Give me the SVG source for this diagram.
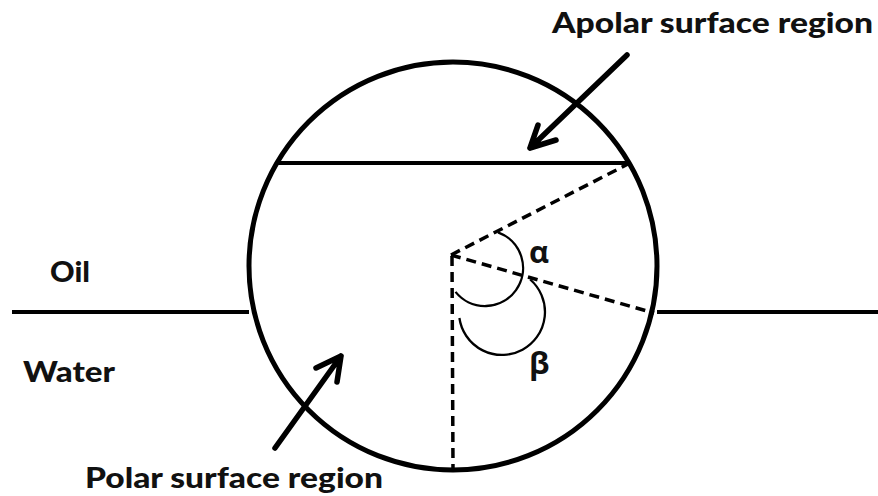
<svg xmlns="http://www.w3.org/2000/svg" width="878" height="496" viewBox="0 0 878 496">
<style>
.lbl{font-family:Lato,"Open Sans","Liberation Sans",sans-serif;font-weight:900;font-size:28px;fill:#111}
.greek{font-family:"Open Sans","Liberation Sans",sans-serif;font-weight:700;font-size:31px;fill:#111}
.thick{fill:none;stroke:#000;stroke-width:5;stroke-linecap:round}
.line{fill:none;stroke:#000;stroke-width:4}
.dash{fill:none;stroke:#000;stroke-width:3.5;stroke-dasharray:10 6}
.arc{fill:none;stroke:#000;stroke-width:2.3}
.arrow{fill:none;stroke:#000;stroke-width:5.5;stroke-linecap:round;stroke-linejoin:round}
</style>
<rect width="878" height="496" fill="#fff"/>
<g id="interface">
<line class="line" x1="12" y1="312" x2="249" y2="312"/>
<line class="line" x1="657" y1="312" x2="878" y2="312"/>
</g>
<g id="particle">
<circle class="thick" cx="453" cy="266" r="204"/>
<line class="line" x1="277" y1="163" x2="629" y2="163"/>
</g>
<g id="connectors">
<line class="dash" x1="451" y1="255" x2="628" y2="164"/>
<line class="dash" x1="451" y1="255" x2="654" y2="313"/>
<line class="dash" x1="452" y1="256" x2="453" y2="469"/>
<path class="arc" d="M498,232.3 A38,38 0 1 1 455.5,291.9"/>
<path class="arc" d="M530.2,279.5 A43,43 0 1 1 459.4,318"/>
<path class="arrow" d="M627,55 L530,148 M538,125 L530,148 L556,140"/>
<path class="arrow" d="M275,448 L341,356 M316,368 L341,356 L337,382"/>
</g>
<g id="labels">
<text class="lbl" x="552" y="33" textLength="321" lengthAdjust="spacingAndGlyphs">Apolar surface region</text>
<text class="lbl" x="50" y="282" textLength="40" lengthAdjust="spacingAndGlyphs">Oil</text>
<text class="lbl" x="23" y="382" textLength="92" lengthAdjust="spacingAndGlyphs">Water</text>
<text class="lbl" x="85" y="488" textLength="298" lengthAdjust="spacingAndGlyphs">Polar surface region</text>
<text class="greek" x="529" y="263">α</text>
<text class="greek" x="529" y="374">β</text>
</g>
</svg>
